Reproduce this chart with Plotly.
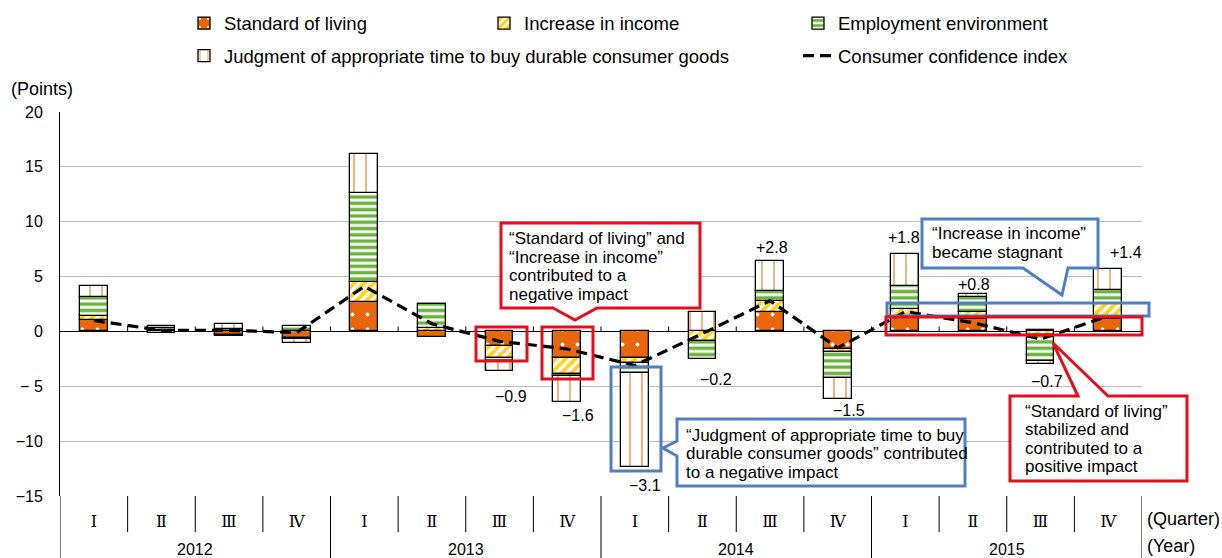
import plotly.graph_objects as go

# ---- data -------------------------------------------------------------
years = ["2012", "2013", "2014", "2015"]
quarters = ["Ⅰ", "Ⅱ", "Ⅲ", "Ⅳ"]

# contribution of each component to the change (points)
standard_of_living = [1.0, 0.1, -0.3, -0.6, 2.7, -0.5, -1.3, -2.4,
                      -2.4, 0.0, 1.8, -1.6, 1.2, 1.1, 0.1, 1.1]
increase_in_income = [0.4, 0.25, -0.1, -0.1, 1.8, 0.3, -1.1, -1.5,
                      -0.5, -0.9, 1.0, -0.3, 0.8, 0.7, -0.3, 1.4]
employment_environment = [1.7, 0.15, 0.25, 0.5, 8.1, 2.2, -0.3, -0.2,
                          -0.9, -1.6, 0.9, -2.3, 2.1, 1.3, -2.4, 1.3]
durable_goods_timing = [1.0, -0.15, 0.4, -0.35, 3.6, 0.0, -0.9, -2.3,
                        -8.6, 1.8, 2.7, -2.0, 3.0, 0.3, -0.3, 1.9]
# change of the consumer confidence index (points)
confidence_index = [1.0, 0.1, 0.1, -0.1, 4.1, 0.7, -0.9, -1.6,
                    -3.1, -0.2, 2.8, -1.5, 1.8, 0.8, -0.7, 1.4]

# quarters whose index change is written next to the bar
labeled_quarters = list(range(6, 16))

# ---- styling ----------------------------------------------------------
FONT = "Liberation Sans, Arial, sans-serif"
ORANGE = "#E8670C"
YELLOW = "#FFD21F"
GREEN = "#6CB33E"
DASH_ORANGE = "#F0883A"
RED = "#E50E1C"
BLUE = "#4E80C0"
GRID = "#BDBDBD"

W, H = 1222, 558
PL, PR, PT, PB = 60, 1142, 112, 496   # plot area edges (px)


def fx(p):
    return (p - PL) / (PR - PL)


def fy(p):
    return (PB - p) / (PB - PT)


n = len(standard_of_living)
xs = list(range(n))

fig = go.Figure()

outline = dict(color="black", width=1.3)

fig.add_trace(go.Bar(
    x=xs, y=standard_of_living, width=0.41, name="Standard of living",
    legend="legend", showlegend=True,
    marker=dict(color=ORANGE, line=outline,
                pattern=dict(shape=".", fillmode="overlay", fgcolor="white",
                             fgopacity=1, size=15, solidity=0.05))))
fig.add_trace(go.Bar(
    x=xs, y=increase_in_income, width=0.41, name="Increase in income",
    legend="legend2", showlegend=True,
    marker=dict(color="white", line=outline,
                pattern=dict(shape="/", fillmode="overlay", fgcolor=YELLOW,
                             fgopacity=1, size=7, solidity=0.55))))
fig.add_trace(go.Bar(
    x=xs, y=employment_environment, width=0.41, name="Employment environment",
    legend="legend3", showlegend=True,
    marker=dict(color="white", line=outline,
                pattern=dict(shape="-", fillmode="overlay", fgcolor=GREEN,
                             fgopacity=1, size=6.3, solidity=0.55))))
fig.add_trace(go.Bar(
    x=xs, y=durable_goods_timing, width=0.41,
    name="Judgment of appropriate time to buy durable consumer goods",
    legend="legend4", showlegend=True,
    marker=dict(color="white", line=outline,
                pattern=dict(shape="|", fillmode="overlay", fgcolor=DASH_ORANGE,
                             fgopacity=1, size=12, solidity=0.11))))
fig.add_trace(go.Scatter(
    x=xs, y=confidence_index, mode="lines", name="Consumer confidence index",
    legend="legend5", showlegend=True,
    line=dict(color="black", width=3.2, dash="11px,6px")))

# ---- legends (one per entry so that they sit on a 2-row grid) ----------
legend_font = dict(family=FONT, size=18.5, color="black")
legend_slots = {
    "legend": (224, 23.5), "legend2": (524, 23.5), "legend3": (838, 23.5),
    "legend4": (224, 56), "legend5": (838, 56),
}
legend_layout = {}
for key, (tx, ty) in legend_slots.items():
    legend_layout[key] = dict(
        x=(tx - 40) / W, y=1 - ty / H, xref="container", yref="container",
        xanchor="left", yanchor="middle", orientation="h", visible=True,
        bgcolor="rgba(0,0,0,0)", font=legend_font, itemwidth=30,
        borderwidth=0)

# ---- shapes -----------------------------------------------------------
shapes = []

# small tick marks on the zero line between quarters
for k in range(n - 1):
    shapes.append(dict(type="line", xref="x", yref="y", x0=k + 0.5, x1=k + 0.5,
                       ysizemode="pixel", yanchor=0, y0=0, y1=5,
                       line=dict(color="black", width=1)))

# category separators under the plot
for k in range(n + 1):
    b = k - 0.5
    is_year = k % 4 == 0
    shapes.append(dict(type="line", xref="x", yref="paper", x0=b, x1=b,
                       y0=0, y1=fy(558 if is_year else 532),
                       line=dict(color="black", width=1)))


def path_of(points):
    pts = [f"{fx(px):.5f},{fy(py):.5f}" for px, py in points]
    return "M" + " L".join(pts) + " Z"


def rect(x0, y0, x1, y1, color):
    shapes.append(dict(type="rect", xref="paper", yref="paper",
                       x0=fx(x0), x1=fx(x1), y0=fy(y1), y1=fy(y0),
                       line=dict(color=color, width=3),
                       fillcolor="rgba(0,0,0,0)"))


# highlight frames
rect(476, 327, 527, 361, RED)
rect(542, 327, 593, 379, RED)
rect(611, 367, 661, 471, BLUE)
rect(887, 303, 1149, 316, BLUE)
rect(886, 317, 1142, 335, RED)

# callout boxes with pointers
callouts = [
    (RED, [(501, 223), (700, 223), (700, 308), (597, 308), (575, 320),
           (553, 308), (501, 308)]),
    (BLUE, [(677, 419), (965, 419), (965, 486), (677, 486), (677, 456),
            (663, 448), (677, 441)]),
    (BLUE, [(922, 219), (1098, 219), (1098, 268), (1068, 268), (1062, 295),
            (1023, 268), (922, 268)]),
    (RED, [(1010, 396), (1078, 396), (1053, 343), (1108, 396), (1187, 396),
           (1187, 481), (1010, 481)]),
]
for color, pts in callouts:
    shapes.append(dict(type="path", xref="paper", yref="paper",
                       path=path_of(pts), fillcolor="white",
                       line=dict(color=color, width=3)))

# ---- annotations ------------------------------------------------------
annotations = []
callout_text = [
    (507, [(238.5, "“Standard of living” and"), (257, "“Increase in income”"),
           (275.5, "contributed to a"), (294, "negative impact")]),
    (684, [(435, "“Judgment of appropriate time to buy"),
           (453.5, "durable consumer goods” contributed"),
           (472, "to a negative impact")]),
    (930, [(233.5, "“Increase in income”"), (252, "became stagnant")]),
    (1023, [(411, "“Standard of living”"), (429.5, "stabilized and"),
            (448, "contributed to a"), (466.5, "positive impact")]),
]
for left, lines in callout_text:
    for yy, txt in lines:
        annotations.append(dict(
            text=txt, xref="paper", yref="paper", x=fx(left), y=fy(yy),
            xanchor="left", yanchor="middle", showarrow=False,
            font=dict(family=FONT, size=17, color="black")))

# index change labels next to the bars
label_shift = {6: (11, -26), 7: (11, -13.5), 8: (10, -18.5), 9: (14, -21),
               10: (2, 14), 11: (11, -11.5), 12: (-1, 16), 13: (1.5, 10),
               14: (6.5, -17.5), 15: (18, 16.5)}
for i in labeled_quarters:
    comps = [standard_of_living[i], increase_in_income[i],
             employment_environment[i], durable_goods_timing[i]]
    v = confidence_index[i]
    if v >= 0:
        anchor_y = sum(c for c in comps if c > 0)
        txt = f"+{v:.1f}"
    else:
        anchor_y = sum(c for c in comps if c < 0)
        txt = f"−{abs(v):.1f}"
    dx, dy = label_shift[i]
    annotations.append(dict(
        text=txt, x=i, y=anchor_y, xref="x", yref="y", xshift=dx, yshift=dy,
        xanchor="center", yanchor="middle", showarrow=False,
        font=dict(family=FONT, size=16, color="black")))

# year labels
for j, yr in enumerate(years):
    annotations.append(dict(
        text=yr, x=j * 4 + 1.5, y=fy(549), xref="x", yref="paper",
        xanchor="center", yanchor="middle", showarrow=False,
        font=dict(family=FONT, size=16, color="black")))

# axis captions
for txt, xx, yy in [("(Points)", 9, 89), ("(Quarter)", 1145, 519),
                    ("(Year)", 1145, 546)]:
    annotations.append(dict(
        text=txt, xref="paper", yref="paper", x=fx(xx), y=fy(yy),
        xanchor="left", yanchor="middle", showarrow=False,
        font=dict(family=FONT, size=18, color="black")))

# ---- axes & layout ----------------------------------------------------
yticks = [-15, -10, -5, 0, 5, 10, 15, 20]
ytext = ["−15", "−10", "− 5", "0", "5", "10", "15", "20"]

fig.update_layout(
    width=W, height=H, barmode="relative", bargap=0, showlegend=True,
    margin=dict(l=PL, r=W - PR, t=PT, b=H - PB),
    plot_bgcolor="white", paper_bgcolor="white",
    font=dict(family=FONT, size=16, color="black"),
    shapes=shapes, annotations=annotations,
    xaxis=dict(range=[-0.5, n - 0.5], tickvals=xs,
               ticktext=[q for _ in years for q in quarters],
               showgrid=False, zeroline=False, showline=False, ticks="",
               ticklabelstandoff=14,
               tickfont=dict(family="DejaVu Serif, Liberation Serif, serif",
                             size=16, color="black")),
    yaxis=dict(range=[-15, 20], tickvals=yticks, ticktext=ytext,
               showgrid=True, gridcolor=GRID, gridwidth=1,
               zeroline=True, zerolinecolor="black", zerolinewidth=1.2,
               showline=True, linecolor="black", linewidth=1, ticks="",
               ticklabelstandoff=13,
               tickfont=dict(family=FONT, size=16, color="black")),
    **legend_layout,
)

fig.write_html("out.html")
